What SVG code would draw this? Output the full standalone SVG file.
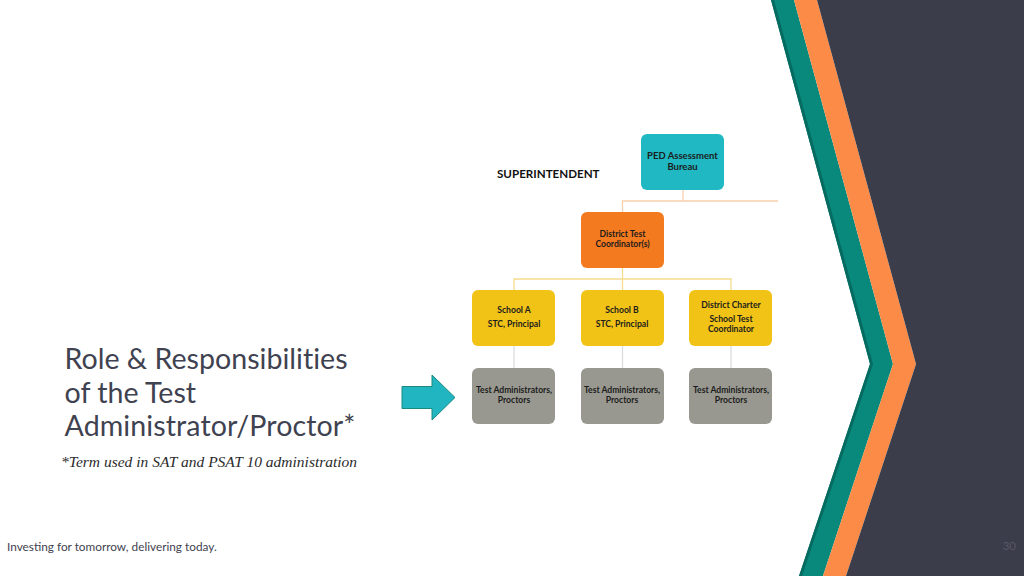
<svg xmlns="http://www.w3.org/2000/svg" width="1024" height="576" viewBox="0 0 1024 576">
<style>
.n{font-family:Lato,"Liberation Sans",sans-serif;font-weight:700;font-size:8.6px;fill:#1c1c1c;text-anchor:middle;font-variant-ligatures:none}
.p{font-size:9.500px}
.t{font-family:Lato,"Open Sans",sans-serif;font-size:28.6px;fill:#3f4250;font-variant-ligatures:none}
.o{fill:none;stroke:#f8cfae;stroke-width:1.3}
.y{fill:none;stroke:#f5dc8e;stroke-width:1.3}
.g{fill:none;stroke:#dcdcdc;stroke-width:1.3}
</style>
<rect width="1024" height="576" fill="#fff"/>
<g id="background">
<polygon points="771,0 794,0 893,364 823,576 799,576 870,364" fill="#08897c"/>
<polygon points="771,0 774,0 873,364 802,576 799,576 870,364" fill="#056a60"/>
<polygon points="794,0 817,0 916,364 846,576 823,576 893,364" fill="#fb8b46"/>
<polygon points="817,0 1024,0 1024,576 846,576 916,364" fill="#3b3d4b"/>
</g>
<g id="connectors">
<path class="o" d="M683 190V201H778M683 201H622.500V212"/>
<path class="y" d="M622.500 268V279M514 290V279H731V290M622.500 279V290"/>
<path class="g" d="M514 346V368M622.500 346V368M731 346V368"/>
</g>
<g id="ped"><rect x="641" y="134" width="83" height="56" rx="6" fill="#1fb8c3"/>
<text class="n p" x="682.500" y="159">PED Assessment</text><text class="n p" x="682.500" y="170">Bureau</text></g>
<g id="superintendent"><text x="497" y="177.500" font-family="Lato,Liberation Sans,sans-serif" font-weight="700" font-size="11.600" fill="#111">SUPERINTENDENT</text></g>
<g id="dtc"><rect x="581" y="212" width="83" height="56" rx="6" fill="#f47a20"/>
<text class="n" x="622.500" y="237">District Test</text><text class="n" x="622.500" y="247">Coordinator(s)</text></g>
<g id="schoolA"><rect x="472" y="290" width="83" height="56" rx="6" fill="#f1c317"/>
<text class="n" x="514" y="313">School A</text><text class="n" x="514" y="327">STC, Principal</text></g>
<g id="schoolB"><rect x="581" y="290" width="83" height="56" rx="6" fill="#f1c317"/>
<text class="n" x="622" y="313">School B</text><text class="n" x="622" y="327">STC, Principal</text></g>
<g id="charter"><rect x="689" y="290" width="83" height="56" rx="6" fill="#f1c317"/>
<text class="n" x="731" y="308">District Charter</text><text class="n" x="731" y="322">School Test</text><text class="n" x="731" y="332">Coordinator</text></g>
<g id="taA"><rect x="472" y="368" width="83" height="56" rx="6" fill="#989890"/>
<text class="n" x="514" y="393">Test Administrators,</text><text class="n" x="514" y="403">Proctors</text></g>
<g id="taB"><rect x="581" y="368" width="83" height="56" rx="6" fill="#989890"/>
<text class="n" x="622" y="393">Test Administrators,</text><text class="n" x="622" y="403">Proctors</text></g>
<g id="taC"><rect x="689" y="368" width="83" height="56" rx="6" fill="#989890"/>
<text class="n" x="731" y="393">Test Administrators,</text><text class="n" x="731" y="403">Proctors</text></g>
<g id="arrow"><polygon points="402,386.500 432,386.500 432,375 455,397.500 432,420 432,408.500 402,408.500" fill="#20b5c0" stroke="#1a8a80" stroke-width="1"/></g>
<g id="title">
<text class="t" x="64.500" y="368.500">Role &amp; Responsibilities</text>
<text class="t" x="64.500" y="402.500">of the Test</text>
<text class="t" x="64.500" y="435.500" textLength="291">Administrator/Proctor*</text>
</g>
<text x="61" y="467" font-family="Liberation Serif,serif" font-style="italic" font-size="15.500" fill="#2b2b2b">*Term used in SAT and PSAT 10 administration</text>
<text x="7" y="551" font-family="Lato,sans-serif" font-size="11.800" fill="#3f4250">Investing for tomorrow, delivering today.</text>
<text x="1016" y="550" text-anchor="end" font-family="Lato,sans-serif" font-size="11.500" fill="#565866">30</text>
</svg>
